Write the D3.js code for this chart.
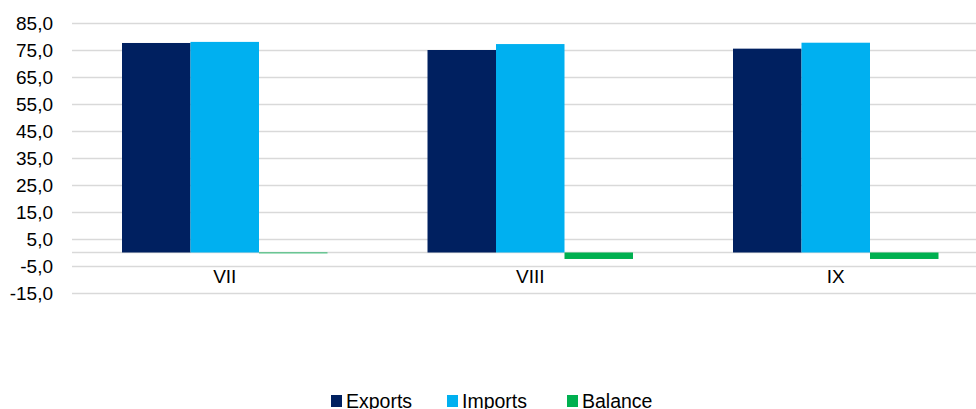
<!DOCTYPE html>
<html>
<head>
<meta charset="utf-8">
<script src="https://cdn.jsdelivr.net/npm/d3@7"></script>
<style>
    body { margin: 0; background: #fff; }
    svg { display: block; font-family: "Liberation Sans", Arial, sans-serif; }
</style>
</head>
<body>
<svg id="chart" width="976" height="409"></svg>
<script>
const categories = ['VII', 'VIII', 'IX'];
const seriesNames = ['Exports', 'Imports', 'Balance'];
const exportsVals = [77.6, 75.0, 75.5];
const importsVals = [78.0, 77.2, 77.7];
const balanceVals = [-0.3, -2.4, -2.4];
const yTicks = [85, 75, 65, 55, 45, 35, 25, 15, 5, -5, -15];
const colors = ['#002060', '#00B0F0', '#00B050'];

const svg = d3.select('#chart');
const width = 976, height = 409;
const plotLeft = 72, plotRight = 988.5; // plot runs past the right edge (cropped)
const plotTop = 23, plotBottom = 293;

const x = d3.scaleBand()
    .domain(categories)
    .range([plotLeft, plotRight]);

const xInner = d3.scaleBand()
    .domain(seriesNames)
    .range([0, x.bandwidth()])
    .paddingOuter(0.73); // Excel gap width ~145%

const y = d3.scaleLinear()
    .domain([-15, 85])
    .range([plotBottom, plotTop]);

// gridlines + tick labels
svg.append('g')
    .attr('transform', `translate(${plotLeft},0)`)
    .call(d3.axisLeft(y).tickValues(yTicks)
        .tickSize(-(width - plotLeft))
        .tickPadding(19)
        .tickFormat(d => d3.format('.1f')(d).replace('.', ',').replace('−', '-')))
    .call(g => g.select('.domain').remove())
    .call(g => g.selectAll('.tick line').attr('stroke', '#d9d9d9').attr('stroke-width', 1.5))
    .call(g => g.selectAll('.tick text').attr('fill', '#000').attr('font-size', 19));

// zero line
svg.append('line')
    .attr('x1', plotLeft).attr('x2', width)
    .attr('y1', y(0)).attr('y2', y(0))
    .attr('stroke', '#d9d9d9').attr('stroke-width', 1.5);

const rows = categories.map((c, i) => ({
    cat: c,
    values: [exportsVals[i], importsVals[i], balanceVals[i]]
}));

const groups = svg.selectAll('.cat')
    .data(rows)
    .enter().append('g')
    .attr('class', 'cat')
    .attr('transform', d => `translate(${x(d.cat)},0)`);

groups.selectAll('rect')
    .data(d => d.values.map((v, j) => ({ name: seriesNames[j], value: v, j })))
    .enter().append('rect')
    .attr('x', d => xInner(d.name))
    .attr('width', xInner.bandwidth())
    .attr('y', d => y(Math.max(0, d.value)))
    .attr('height', d => Math.abs(y(d.value) - y(0)))
    .attr('fill', d => colors[d.j]);

// category labels
svg.append('g').selectAll('text')
    .data(categories)
    .enter().append('text')
    .attr('x', d => x(d) + x.bandwidth() / 2)
    .attr('y', 283)
    .attr('text-anchor', 'middle')
    .attr('font-size', 19)
    .text(d => d);

// legend
const legendX = [331, 447, 567];
const legend = svg.append('g').selectAll('g')
    .data(seriesNames)
    .enter().append('g')
    .attr('transform', (d, i) => `translate(${legendX[i]},395)`);

legend.append('rect')
    .attr('width', 11).attr('height', 12)
    .attr('fill', (d, i) => colors[i]);

legend.append('text')
    .attr('x', 15)
    .attr('y', 13)
    .attr('font-size', 19.5)
    .text(d => d);
</script>
</body>
</html>
